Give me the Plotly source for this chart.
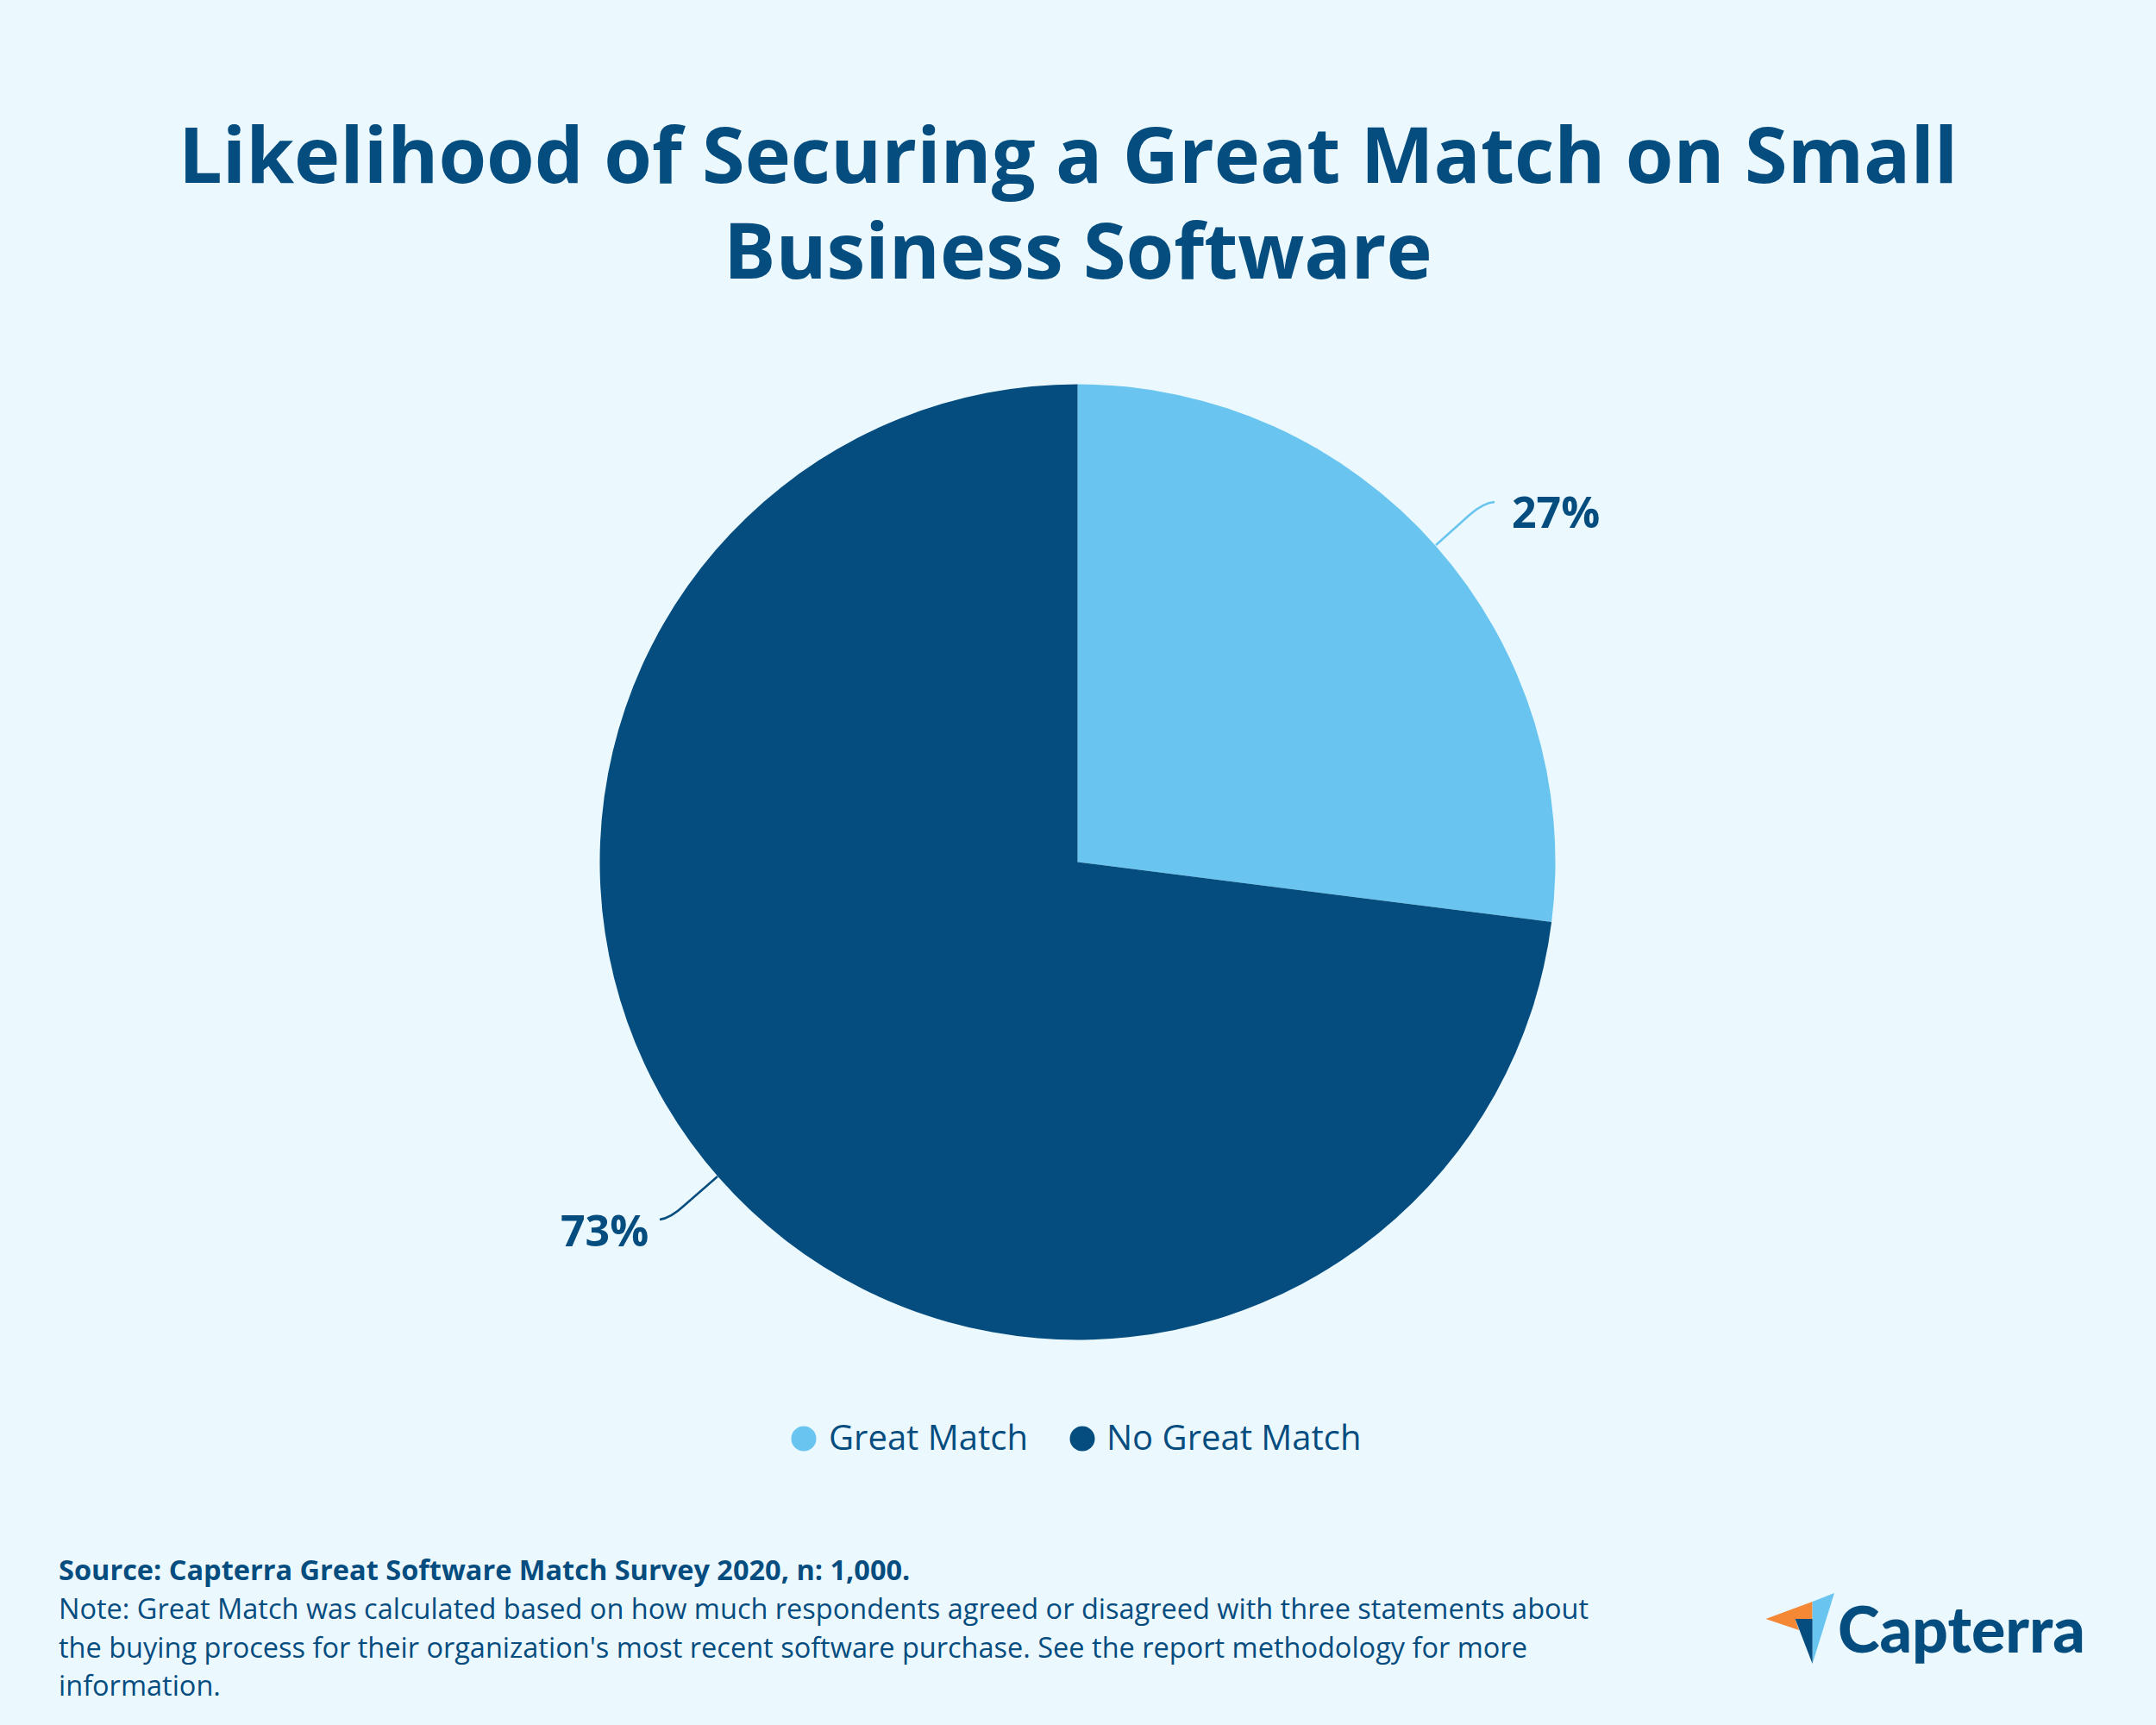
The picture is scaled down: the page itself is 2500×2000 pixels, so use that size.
#!/usr/bin/env python3
# plot.py - Capterra pie: likelihood of securing a great match
import plotly.graph_objects as go

W, H = 2500, 2000
BG = "#EBF9FF"
DARK = "#054C7F"
LIGHT = "#69C5EF"
ORANGE = "#F58835"
FONT = "Open Sans"

categories = ["Great Match", "No Great Match"]
values = [27, 73]
colors = [LIGHT, DARK]

title_lines = ["Likelihood of Securing a Great Match on Small", "Business Software"]
source_line = "Source: Capterra Great Software Match Survey 2020, n: 1,000."
note_lines = [
    "Note: Great Match was calculated based on how much respondents agreed or disagreed with three statements about",
    "the buying process for their organization's most recent software purchase. See the report methodology for more",
    "information.",
]

fig = go.Figure()

# Pie, clockwise from 12 o'clock
fig.add_trace(go.Pie(
    labels=categories, values=values, sort=False, direction="clockwise", rotation=0,
    marker=dict(colors=colors, line=dict(width=0)),
    textinfo="none", hoverinfo="label+percent", showlegend=False,
    domain=dict(x=[(1249.5 - 554) / W, (1249.5 + 554) / W], y=[1 - 1553.5 / H, 1 - 445.5 / H]),
))

# Legend dots: plotly caps its own legend markers at 16px, these are 29px
legend_dot_x = [932, 1255]
legend_text_x = [959, 1281]
legend_y = 1668
for name, col, dot_x in zip(categories, colors, legend_dot_x):
    fig.add_trace(go.Scatter(x=[dot_x], y=[legend_y], mode="markers", name=name, showlegend=False,
                             hoverinfo="name", marker=dict(symbol="circle", size=29, color=col, line=dict(width=0))))

annotations = []


def text(x, y, s, size, bold=False, anchor="left", color=DARK, family=FONT, weight=None):
    font = dict(family=family, size=size, color=color)
    if weight:
        font["weight"] = weight
    annotations.append(dict(
        x=x, y=y, xref="x", yref="y", text=f"<b>{s}</b>" if bold else s, showarrow=False,
        xanchor=anchor, yanchor="middle", align=anchor, font=font,
    ))


text(1238, 177, title_lines[0], 90, bold=True, anchor="center")
text(1250, 288, title_lines[1], 90, bold=True, anchor="center")

# Pie labels
text(1751, 593, f"{values[0]}%", 50, bold=True)
text(754, 1426, f"{values[1]}%", 50, bold=True, anchor="right")

# Legend labels
for name, tx in zip(categories, legend_text_x):
    text(tx, legend_y - 3, name, 40)

# Footer
text(66, 1819.5, source_line, 32.5, bold=True)
for i, line in enumerate(note_lines):
    text(66, 1864.5 + i * 44.6, line, 32.5)

# Logo wordmark
text(2129, 1887, "Capterra", 73.5, family="Lato", weight=900)

shapes = [
    # leader lines
    dict(type="path", xref="x", yref="y", path="M 1665 632 L 1704 597 Q 1720 583 1733 582",
         line=dict(color=LIGHT, width=2.5)),
    dict(type="path", xref="x", yref="y", path="M 832 1364 L 793 1398 Q 778 1412 765 1414",
         line=dict(color=DARK, width=2.5)),
    # logo
    dict(type="path", xref="x", yref="y", path="M 2047.5 1877 L 2101.6 1857 L 2101.6 1877 L 2081.6 1877 L 2086 1890 Z",
         fillcolor=ORANGE, line=dict(width=0)),
    dict(type="path", xref="x", yref="y", path="M 2101.6 1857 L 2127 1847 L 2101.6 1929 Z",
         fillcolor=LIGHT, line=dict(width=0)),
    dict(type="path", xref="x", yref="y", path="M 2081.6 1877 L 2101.6 1877 L 2101.6 1929 Z",
         fillcolor=DARK, line=dict(width=0)),
]

fig.update_layout(
    width=W, height=H, margin=dict(l=0, r=0, t=0, b=0),
    paper_bgcolor=BG, plot_bgcolor="rgba(0,0,0,0)",
    xaxis=dict(range=[0, W], visible=False, fixedrange=True),
    yaxis=dict(range=[H, 0], visible=False, fixedrange=True),
    annotations=annotations, shapes=shapes,
    showlegend=False,
)

fig.write_html("out.html", config=dict(displayModeBar=False), post_script="document.body.style.margin='0';")
